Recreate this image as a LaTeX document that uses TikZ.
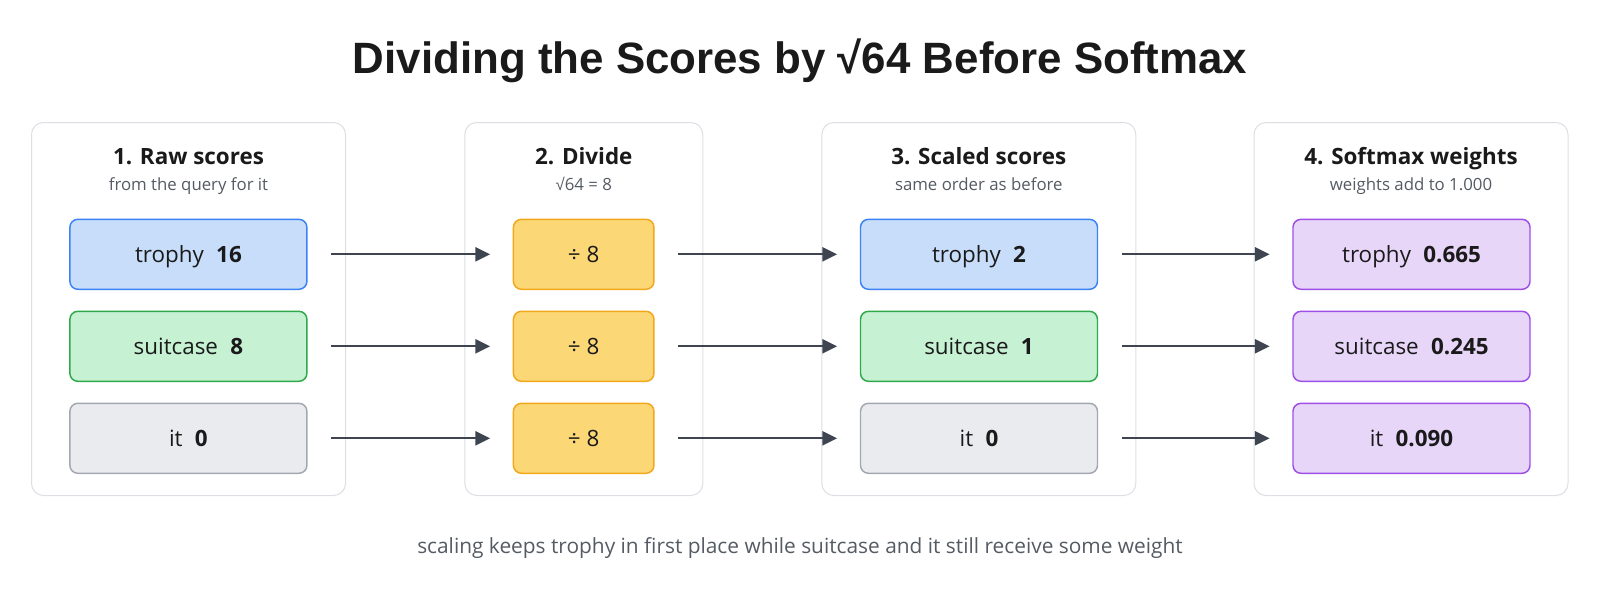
\documentclass[tikz,border=0pt]{standalone}
\usepackage{fontspec}
\usepackage{xcolor}
\usepackage{tikz}
\usetikzlibrary{positioning,arrows.meta}
\setmainfont{Open Sans}
\newfontfamily\titlefont{Liberation Sans}
\definecolor{panelline}{HTML}{DCDFE4}
\definecolor{inkdark}{HTML}{1A1A1A}
\definecolor{inkgray}{HTML}{555B63}
\definecolor{arrowgray}{HTML}{3F4451}
\definecolor{blueline}{HTML}{3B82F6}
\definecolor{bluefill}{HTML}{C7DDF9}
\definecolor{greenline}{HTML}{2EAA4A}
\definecolor{greenfill}{HTML}{C6F1D3}
\definecolor{grayline}{HTML}{A3A8B0}
\definecolor{grayfill}{HTML}{E9EBEE}
\definecolor{yellowline}{HTML}{F2A81D}
\definecolor{yellowfill}{HTML}{FCD775}
\definecolor{purpleline}{HTML}{9D4FE8}
\definecolor{purplefill}{HTML}{E8D6F9}
\tikzset{
    panel/.style = {rectangle, rounded corners=9pt, minimum width=235.5pt, minimum height=279.75pt, draw=panelline, line width=0.75pt, fill=white},
    heading/.style = {anchor=base, text=inkdark, font=\fontsize{16.8pt}{20pt}\selectfont\bfseries},
    subhead/.style = {anchor=base, text=inkgray, font=\fontsize{12.6pt}{15pt}\selectfont},
    score/.style = {rectangle, rounded corners=6pt, minimum width=177.75pt, minimum height=52.5pt, text height=14pt, text depth=1.4pt, line width=1.1pt, text=inkdark, font=\fontsize{16.8pt}{20pt}\selectfont},
    bluebox/.style = {score, draw=blueline, fill=bluefill},
    greenbox/.style = {score, draw=greenline, fill=greenfill},
    graybox/.style = {score, draw=grayline, fill=grayfill},
    purplebox/.style = {score, draw=purpleline, fill=purplefill},
    divbox/.style = {score, minimum width=105.4pt, draw=yellowline, fill=yellowfill},
    arrow/.style = {line width=1.5pt, draw=arrowgray, -{Triangle[length=11pt,width=10.5pt]}}
}
\newcommand{\val}[2]{#1\hspace{0.55em}\textbf{#2}}

\begin{document}
\begin{tikzpicture}[x=0.75pt, y=-0.75pt, node distance=15.4pt]
\useasboundingbox (0,0) rectangle (1600,593);

\node (title) [anchor=base] at (800,73.3) {\titlefont\fontsize{32.9pt}{40pt}\selectfont\bfseries\color{inkdark}Dividing the Scores by √64 Before Softmax};

% panels
\node (panelraw) [panel] at (188.5,309) {};
\node (paneldiv) [panel, minimum width=178.5pt] at (583.8,309) {};
\node (panelscaled) [panel] at (978.8,309) {};
\node (panelsoft) [panel] at (1411,309) {};

\node (headraw) [heading] at (188.5,164.3) {1. Raw scores};
\node (subraw) [subhead] at (188.5,190.3) {from the query for it};
\node (headdiv) [heading] at (583.8,164.3) {2. Divide};
\node (subdiv) [subhead] at (583.8,190.3) {{\titlefont √}64 = 8};
\node (headscaled) [heading] at (978.8,164.3) {3. Scaled scores};
\node (subscaled) [subhead] at (978.8,190.3) {same order as before};
\node (headsoft) [heading] at (1411,164.3) {4. Softmax weights};
\node (subsoft) [subhead] at (1411,190.3) {weights add to 1.000};

% boxes
\node (raw1) [bluebox] at (188.4,254.3) {\val{trophy}{16}};
\node (raw2) [greenbox, below=of raw1] {\val{suitcase}{8}};
\node (raw3) [graybox, below=of raw2] {\val{it}{0}};

\node (div1) [divbox] at (583.7,254.3) {÷ 8};
\node (div2) [divbox, below=of div1] {÷ 8};
\node (div3) [divbox, below=of div2] {÷ 8};

\node (scaled1) [bluebox] at (979,254.3) {\val{trophy}{2}};
\node (scaled2) [greenbox, below=of scaled1] {\val{suitcase}{1}};
\node (scaled3) [graybox, below=of scaled2] {\val{it}{0}};

\node (soft1) [purplebox] at (1411.5,254.3) {\val{trophy}{0.665}};
\node (soft2) [purplebox, below=of soft1] {\val{suitcase}{0.245}};
\node (soft3) [purplebox, below=of soft2] {\val{it}{0.090}};

\draw [arrow] ([xshift=17.8pt]raw1.east) -- ([xshift=-17pt]div1.west);
\draw [arrow] ([xshift=17.8pt]raw2.east) -- ([xshift=-17pt]div2.west);
\draw [arrow] ([xshift=17.8pt]raw3.east) -- ([xshift=-17pt]div3.west);
\draw [arrow] ([xshift=17.8pt]div1.east) -- ([xshift=-17pt]scaled1.west);
\draw [arrow] ([xshift=17.8pt]div2.east) -- ([xshift=-17pt]scaled2.west);
\draw [arrow] ([xshift=17.8pt]div3.east) -- ([xshift=-17pt]scaled3.west);
\draw [arrow] ([xshift=17.8pt]scaled1.east) -- ([xshift=-17pt]soft1.west);
\draw [arrow] ([xshift=17.8pt]scaled2.east) -- ([xshift=-17pt]soft2.west);
\draw [arrow] ([xshift=17.8pt]scaled3.east) -- ([xshift=-17pt]soft3.west);

\node (note) [anchor=base, text=inkgray, font=\fontsize{15.65pt}{19pt}\selectfont] at (800,553.3) {scaling keeps trophy in first place while suitcase and it still receive some weight};
\end{tikzpicture}
\end{document}
